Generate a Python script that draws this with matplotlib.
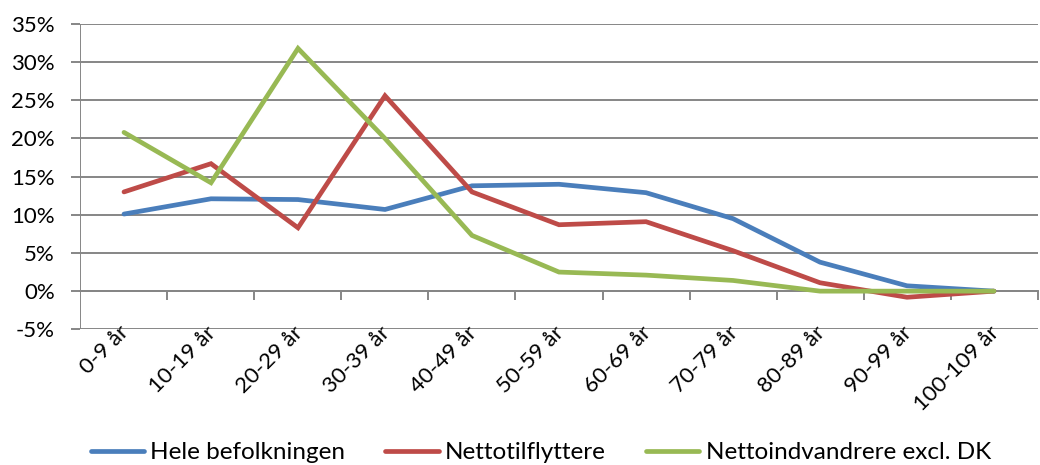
import matplotlib
matplotlib.use("Agg")
import matplotlib.pyplot as plt
import matplotlib.transforms as mtransforms
from matplotlib.ticker import FixedLocator, FixedFormatter

plt.rcParams['font.family'] = ['Lato', 'DejaVu Sans']

categories = ["0-9 år", "10-19 år", "20-29 år", "30-39 år", "40-49 år", "50-59 år",
              "60-69 år", "70-79 år", "80-89 år", "90-99 år", "100-109 år"]
hele = [10.1, 12.1, 12.0, 10.7, 13.8, 14.0, 12.9, 9.5, 3.8, 0.7, 0.0]
netto_tilfl = [13.0, 16.7, 8.3, 25.6, 13.0, 8.7, 9.1, 5.3, 1.1, -0.8, 0.0]
netto_indv = [20.8, 14.2, 31.8, 20.0, 7.3, 2.5, 2.1, 1.4, 0.0, 0.0, 0.0]
series_names = ["Hele befolkningen", "Nettotilflyttere", "Nettoindvandrere excl. DK"]
y_ticks = [-5, 0, 5, 10, 15, 20, 25, 30, 35]
y_labels = ["-5%", "0%", "5%", "10%", "15%", "20%", "25%", "30%", "35%"]

colors = ["#4A7EBB", "#BE4B48", "#98B954"]
grid_col = "#868686"

fig = plt.figure(figsize=(10.4, 4.65), dpi=100)
ax = fig.add_axes([0.0774, 0.2918, 0.9202, 0.6566])

x = list(range(len(categories)))
for vals, name, c in zip([hele, netto_tilfl, netto_indv], series_names, colors):
    ax.plot(x, vals, color=c, lw=3.4, label=name, solid_capstyle='round',
            solid_joinstyle='miter', zorder=3)

ax.set_xlim(-0.5, len(categories) - 0.5)
ax.set_ylim(-5, 35)

for s in ['top', 'right', 'left']:
    ax.spines[s].set_visible(False)
ax.spines['bottom'].set_position(('data', 0))
ax.spines['bottom'].set_color(grid_col)
ax.spines['bottom'].set_linewidth(1.4)

ax.axvline(-0.5, color=grid_col, lw=1.4, zorder=2)
ax.yaxis.set_major_locator(FixedLocator(y_ticks))
ax.yaxis.set_major_formatter(FixedFormatter(y_labels))
ax.tick_params(axis='y', length=6.5, width=1.4, color=grid_col, pad=12,
               labelsize=16, labelcolor='black')
ax.grid(axis='y', color=grid_col, lw=1.4, zorder=1)

ax.set_xticks([i + 0.5 for i in range(len(categories))])
ax.set_xticklabels([])
ax.tick_params(axis='x', length=6.5, width=1.4, color=grid_col, direction='out')

trans = mtransforms.blended_transform_factory(ax.transData, ax.transAxes)
offset = mtransforms.ScaledTranslation(2 / 100, 0 / 100, fig.dpi_scale_trans)
for i, lab in enumerate(categories):
    ax.text(i, 0, lab, transform=trans + offset, rotation=45, ha='right', va='center',
            rotation_mode='anchor', fontsize=16, color='black')

ax.legend(loc='center', bbox_to_anchor=(0.52, 0.026), bbox_transform=fig.transFigure,
          ncol=3, frameon=False, fontsize=17.5, handlelength=2.2, handletextpad=0.25,
          columnspacing=1.65)

fig.savefig("out.png", dpi=100)
